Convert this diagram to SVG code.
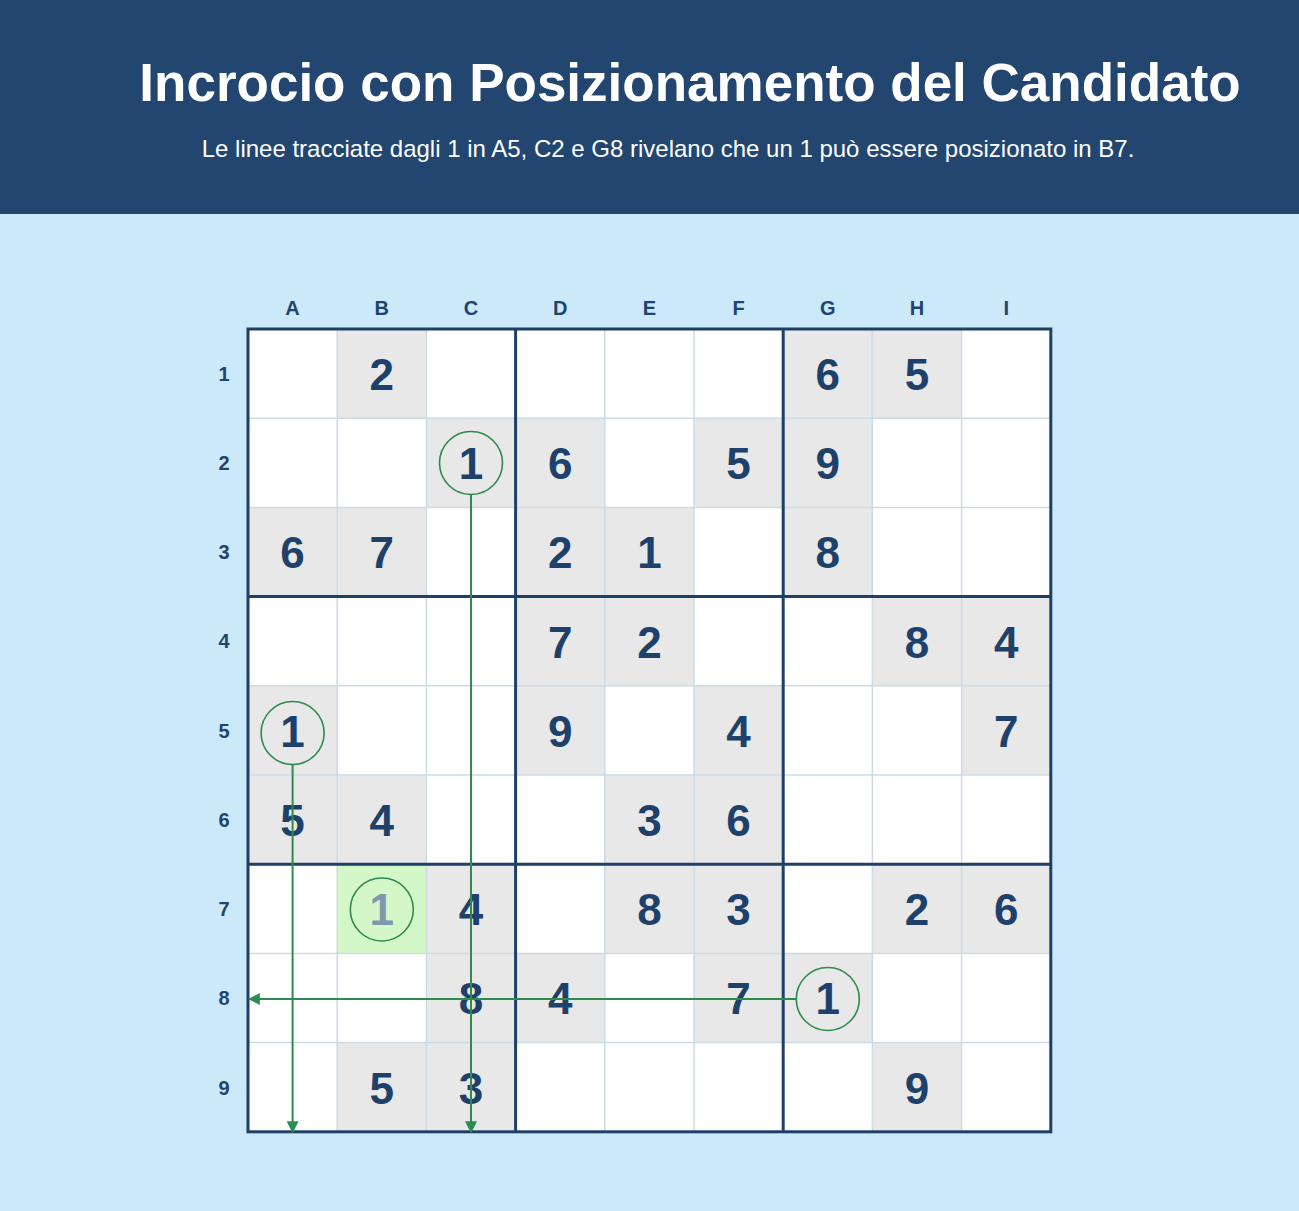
<svg xmlns="http://www.w3.org/2000/svg" width="1299" height="1211" viewBox="0 0 1299 1211">
<defs>
<style>
.title{font-family:"Liberation Sans",Arial,sans-serif;font-weight:bold;font-size:53px;fill:#ffffff;text-anchor:middle}
.sub{font-family:"Liberation Sans",Arial,sans-serif;font-size:24px;fill:#ffffff;text-anchor:middle}
.lab{font-family:"Liberation Sans",Arial,sans-serif;font-weight:bold;font-size:20px;fill:#1f4470;text-anchor:middle}
.dig{font-family:"Liberation Sans",Arial,sans-serif;font-weight:bold;font-size:44px;fill:#1e416b;text-anchor:middle}
.cand{font-family:"Liberation Sans",Arial,sans-serif;font-weight:bold;font-size:44px;fill:#8098ac;text-anchor:middle}
.w{fill:#ffffff}
.g{fill:#e8e8e8}
.hl{fill:#d4f7c8}
.thin{stroke:#cddbe6;stroke-width:1.5;fill:none}
.thick{stroke:#1e3f66;stroke-width:3;fill:none}
.circ{fill:none;stroke:#2e8b4e;stroke-width:1.6}
.conn{stroke:#2e8b4e;stroke-width:2;fill:none}
</style>
<marker id="arr" viewBox="0 0 10 10" refX="9" refY="5" markerWidth="12" markerHeight="12" markerUnits="userSpaceOnUse" orient="auto">
<path d="M0,0 L10,5 L0,10 z" fill="#2e8b4e"/>
</marker>
</defs>
<rect x="0" y="0" width="1299" height="1211" fill="#cce9f9"/>
<rect x="0" y="0" width="1299" height="214" fill="#22466f"/>
<text class="title" x="690" y="101">Incrocio con Posizionamento del Candidato</text>
<text class="sub" x="668" y="157">Le linee tracciate dagli 1 in A5, C2 e G8 rivelano che un 1 può essere posizionato in B7.</text>

<g id="labels">
<text class="lab" x="292.6" y="315">A</text>
<text class="lab" x="381.8" y="315">B</text>
<text class="lab" x="471" y="315">C</text>
<text class="lab" x="560.2" y="315">D</text>
<text class="lab" x="649.4" y="315">E</text>
<text class="lab" x="738.6" y="315">F</text>
<text class="lab" x="827.8" y="315">G</text>
<text class="lab" x="917" y="315">H</text>
<text class="lab" x="1006.2" y="315">I</text>
<text class="lab" x="224" y="381">1</text>
<text class="lab" x="224" y="470">2</text>
<text class="lab" x="224" y="559">3</text>
<text class="lab" x="224" y="648">4</text>
<text class="lab" x="224" y="738">5</text>
<text class="lab" x="224" y="827">6</text>
<text class="lab" x="224" y="916">7</text>
<text class="lab" x="224" y="1005">8</text>
<text class="lab" x="224" y="1095">9</text>
</g>

<g id="grid">
<rect class="w" x="248" y="329" width="802.8" height="802.8"/>
<rect class="g" x="337.2" y="329" width="89.2" height="89.2"/>
<rect class="g" x="783.2" y="329" width="89.2" height="89.2"/>
<rect class="g" x="872.4" y="329" width="89.2" height="89.2"/>
<rect class="g" x="426.4" y="418.2" width="89.2" height="89.2"/>
<rect class="g" x="515.6" y="418.2" width="89.2" height="89.2"/>
<rect class="g" x="694" y="418.2" width="89.2" height="89.2"/>
<rect class="g" x="783.2" y="418.2" width="89.2" height="89.2"/>
<rect class="g" x="248" y="507.4" width="89.2" height="89.2"/>
<rect class="g" x="337.2" y="507.4" width="89.2" height="89.2"/>
<rect class="g" x="515.6" y="507.4" width="89.2" height="89.2"/>
<rect class="g" x="604.8" y="507.4" width="89.2" height="89.2"/>
<rect class="g" x="783.2" y="507.4" width="89.2" height="89.2"/>
<rect class="g" x="515.6" y="596.6" width="89.2" height="89.2"/>
<rect class="g" x="604.8" y="596.6" width="89.2" height="89.2"/>
<rect class="g" x="872.4" y="596.6" width="89.2" height="89.2"/>
<rect class="g" x="961.6" y="596.6" width="89.2" height="89.2"/>
<rect class="g" x="248" y="685.8" width="89.2" height="89.2"/>
<rect class="g" x="515.6" y="685.8" width="89.2" height="89.2"/>
<rect class="g" x="694" y="685.8" width="89.2" height="89.2"/>
<rect class="g" x="961.6" y="685.8" width="89.2" height="89.2"/>
<rect class="g" x="248" y="775" width="89.2" height="89.2"/>
<rect class="g" x="337.2" y="775" width="89.2" height="89.2"/>
<rect class="g" x="604.8" y="775" width="89.2" height="89.2"/>
<rect class="g" x="694" y="775" width="89.2" height="89.2"/>
<rect class="hl" x="337.2" y="864.2" width="89.2" height="89.2"/>
<rect class="g" x="426.4" y="864.2" width="89.2" height="89.2"/>
<rect class="g" x="604.8" y="864.2" width="89.2" height="89.2"/>
<rect class="g" x="694" y="864.2" width="89.2" height="89.2"/>
<rect class="g" x="872.4" y="864.2" width="89.2" height="89.2"/>
<rect class="g" x="961.6" y="864.2" width="89.2" height="89.2"/>
<rect class="g" x="426.4" y="953.4" width="89.2" height="89.2"/>
<rect class="g" x="515.6" y="953.4" width="89.2" height="89.2"/>
<rect class="g" x="694" y="953.4" width="89.2" height="89.2"/>
<rect class="g" x="783.2" y="953.4" width="89.2" height="89.2"/>
<rect class="g" x="337.2" y="1042.6" width="89.2" height="89.2"/>
<rect class="g" x="426.4" y="1042.6" width="89.2" height="89.2"/>
<rect class="g" x="872.4" y="1042.6" width="89.2" height="89.2"/>
<path class="thin" d="M337.2,329V1131.8M426.4,329V1131.8M604.8,329V1131.8M694,329V1131.8M872.4,329V1131.8M961.6,329V1131.8M248,418.2H1050.8M248,507.4H1050.8M248,685.8H1050.8M248,775H1050.8M248,953.4H1050.8M248,1042.6H1050.8"/>
<path class="thick" d="M515.6,329V1131.8M783.2,329V1131.8M248,596.6H1050.8M248,864.2H1050.8"/>
<rect class="thick" x="248" y="329" width="802.8" height="802.8"/>
</g>

<g id="digits">
<text class="dig" x="381.8" y="390">2</text>
<text class="dig" x="827.8" y="390">6</text>
<text class="dig" x="917" y="390">5</text>
<text class="dig" x="471" y="479">1</text>
<text class="dig" x="560.2" y="479">6</text>
<text class="dig" x="738.6" y="479">5</text>
<text class="dig" x="827.8" y="479">9</text>
<text class="dig" x="292.6" y="568">6</text>
<text class="dig" x="381.8" y="568">7</text>
<text class="dig" x="560.2" y="568">2</text>
<text class="dig" x="649.4" y="568">1</text>
<text class="dig" x="827.8" y="568">8</text>
<text class="dig" x="560.2" y="658">7</text>
<text class="dig" x="649.4" y="658">2</text>
<text class="dig" x="917" y="658">8</text>
<text class="dig" x="1006.2" y="658">4</text>
<text class="dig" x="292.6" y="747">1</text>
<text class="dig" x="560.2" y="747">9</text>
<text class="dig" x="738.6" y="747">4</text>
<text class="dig" x="1006.2" y="747">7</text>
<text class="dig" x="292.6" y="836">5</text>
<text class="dig" x="381.8" y="836">4</text>
<text class="dig" x="649.4" y="836">3</text>
<text class="dig" x="738.6" y="836">6</text>
<text class="cand" x="381.8" y="925">1</text>
<text class="dig" x="471" y="925">4</text>
<text class="dig" x="649.4" y="925">8</text>
<text class="dig" x="738.6" y="925">3</text>
<text class="dig" x="917" y="925">2</text>
<text class="dig" x="1006.2" y="925">6</text>
<text class="dig" x="471" y="1014">8</text>
<text class="dig" x="560.2" y="1014">4</text>
<text class="dig" x="738.6" y="1014">7</text>
<text class="dig" x="827.8" y="1014">1</text>
<text class="dig" x="381.8" y="1104">5</text>
<text class="dig" x="471" y="1104">3</text>
<text class="dig" x="917" y="1104">9</text>
</g>

<g id="circles">
<circle id="c-C2" class="circ" cx="471" cy="463" r="31.5"/>
<circle id="c-A5" class="circ" cx="292.6" cy="733" r="31.5"/>
<circle id="c-G8" class="circ" cx="827.8" cy="999" r="31.5"/>
<circle id="c-B7" class="circ" cx="381.8" cy="909.5" r="31.5"/>
</g>

<g id="connectors">
<line class="conn" x1="471" y1="494.5" x2="471" y2="1132" marker-end="url(#arr)"/>
<line class="conn" x1="292.6" y1="764.5" x2="292.6" y2="1132" marker-end="url(#arr)"/>
<line class="conn" x1="796.3" y1="999" x2="249" y2="999" marker-end="url(#arr)"/>
</g>
</svg>
